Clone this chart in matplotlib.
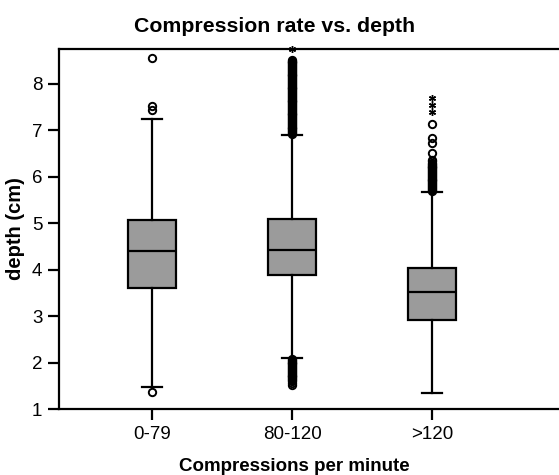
import matplotlib
matplotlib.use("Agg")
import matplotlib.pyplot as plt

plt.rcParams['font.family'] = ['Liberation Sans', 'DejaVu Sans']

# ---- data ----
categories = ["0-79", "80-120", ">120"]
q1 = [3.60, 3.88, 2.91]
median = [4.40, 4.42, 3.52]
q3 = [5.07, 5.10, 4.03]
whisker_low = [1.47, 2.10, 1.34]
whisker_high = [7.25, 6.90, 5.67]

outliers_1 = [7.44, 7.53, 8.56, 1.36]
outliers_2 = [6.92, 6.94, 6.96, 6.98, 7.00, 7.02, 7.04, 7.06, 7.08, 7.10,
              7.12, 7.14, 7.16, 7.18, 7.20, 7.22, 7.24, 7.26, 7.28, 7.30,
              7.32, 7.34, 7.36, 7.38, 7.40, 7.42, 7.44, 7.46, 7.48, 7.50,
              7.52, 7.54, 7.56, 7.58, 7.60, 7.62, 7.64, 7.66, 7.68, 7.70,
              7.72, 7.74, 7.76, 7.78, 7.80, 7.82, 7.84, 7.86, 7.88, 7.90,
              7.92, 7.94, 7.96, 7.98, 8.00, 8.02, 8.04, 8.06, 8.08, 8.10,
              8.12, 8.14, 8.16, 8.18, 8.20, 8.22, 8.24, 8.26, 8.28, 8.30,
              8.32, 8.34, 8.36, 8.38, 8.40, 8.42, 8.44, 8.46, 8.48, 8.50,
              8.52,
              2.08, 2.06, 2.04, 2.02, 2.00, 1.98, 1.96, 1.94, 1.92, 1.90,
              1.88, 1.86, 1.84, 1.82, 1.80, 1.78, 1.76, 1.74, 1.72, 1.70,
              1.68, 1.66, 1.64, 1.62, 1.60, 1.55, 1.51]
outliers_3 = [5.70, 5.72, 5.74, 5.76, 5.78, 5.80, 5.82, 5.84, 5.86, 5.88,
              5.90, 5.92, 5.94, 5.96, 5.98, 6.00, 6.02, 6.04, 6.06, 6.08,
              6.10, 6.12, 6.14, 6.16, 6.18, 6.20, 6.22, 6.24, 6.26, 6.28,
              6.30, 6.33, 6.36, 6.51, 6.73, 6.84, 7.14]
outliers = [outliers_1, outliers_2, outliers_3]

extremes_2 = [8.75]
extremes_3 = [7.40, 7.55, 7.70]
extremes = [[], extremes_2, extremes_3]

title = "Compression rate vs. depth"
xlabel = "Compressions per minute"
ylabel = "depth (cm)"
yticks = [1, 2, 3, 4, 5, 6, 7, 8]

# ---- figure ----
fig = plt.figure(figsize=(5.59, 4.75), dpi=100)
ax = fig.add_axes([59/559, 66/475, 511/559, 360/475])

stats = []
for i, c in enumerate(categories):
    stats.append(dict(label=c, q1=q1[i], med=median[i], q3=q3[i],
                      whislo=whisker_low[i], whishi=whisker_high[i],
                      fliers=outliers[i]))

positions = list(range(1, len(categories) + 1))
ax.bxp(stats, positions=positions, widths=0.34, patch_artist=True,
       capwidths=0.14,
       boxprops=dict(facecolor='#9b9b9b', edgecolor='black', linewidth=1.6),
       medianprops=dict(color='black', linewidth=1.6),
       whiskerprops=dict(color='black', linewidth=1.6),
       capprops=dict(color='black', linewidth=1.6),
       flierprops=dict(marker='o', markerfacecolor='none',
                       markeredgecolor='black', markersize=5.3,
                       markeredgewidth=1.4))

for p, ex in zip(positions, extremes):
    if ex:
        ax.plot([p] * len(ex), ex, linestyle='none', marker=(6, 2, 0),
                markersize=5, markeredgewidth=1.0, color='black',
                clip_on=False)

ax.set_xlim(1 - 93/140, 1 - 93/140 + 511/140)
ax.set_ylim(1, 8.75)
ax.set_yticks(yticks)
ax.set_xticks(positions)
ax.set_xticklabels(categories)

for s in ['top', 'left', 'bottom', 'right']:
    ax.spines[s].set_linewidth(1.6)

ax.tick_params(axis='both', direction='out', length=8, width=1.6,
               labelsize=13.5, pad=4)

ax.set_title(title, fontsize=15.3, fontweight='bold', pad=12,
             x=(275 - 59) / 511)
ax.set_xlabel(xlabel, fontsize=13.5, fontweight='bold', labelpad=11)
ax.xaxis.label.set_x((294 - 59) / 511)
ax.set_ylabel(ylabel, fontsize=14.5, fontweight='bold', labelpad=5)

fig.savefig("out.png", dpi=100)
